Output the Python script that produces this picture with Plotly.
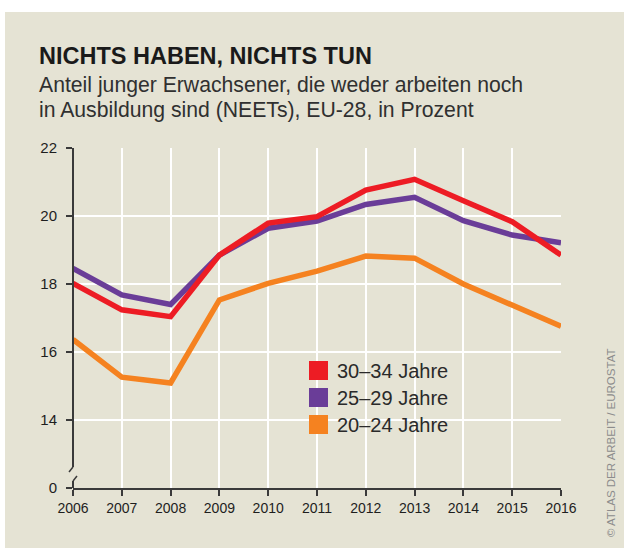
import plotly.graph_objects as go

# NEET rates, EU-28, percent
years = [2006, 2007, 2008, 2009, 2010, 2011, 2012, 2013, 2014, 2015, 2016]
neet_30_34 = [18.02, 17.24, 17.04, 18.85, 19.79, 19.98, 20.76, 21.08, 20.45, 19.83, 18.85]
neet_25_29 = [18.46, 17.68, 17.40, 18.85, 19.64, 19.85, 20.34, 20.55, 19.86, 19.44, 19.21]
neet_20_24 = [16.37, 15.26, 15.09, 17.53, 18.02, 18.38, 18.82, 18.76, 18.00, 17.38, 16.76]

series_names = ["30–34 Jahre", "25–29 Jahre", "20–24 Jahre"]
series_values = [neet_30_34, neet_25_29, neet_20_24]
series_colors = ["#ED1C24", "#6A3D98", "#F58220"]

y_tick_vals = [12, 14, 16, 18, 20, 22]
y_tick_text = ["0", "14", "16", "18", "20", "22"]

W, H = 624, 548
L, R, T, B = 73, 63, 148, 60
PW, PH = W - L - R, H - T - B
BG = "#E5E3D4"
AXIS = "#3A3A3A"
FONT = "Liberation Sans"


def fx(px):
    return (px - L) / PW


def fy(py):
    return (H - B - py) / PH


fig = go.Figure()

# draw lower series first so the 30–34 line sits on top
for name, vals, col in reversed(list(zip(series_names, series_values, series_colors))):
    fig.add_trace(go.Scatter(x=years, y=vals, mode="lines", name=name,
                             line=dict(color=col, width=5.5), showlegend=False,
                             hoverinfo="skip"))

shapes = [
    # white frame strips around the beige panel
    dict(type="rect", xref="paper", yref="paper", x0=fx(-5), x1=fx(W + 5), y0=fy(12), y1=fy(-5),
         fillcolor="white", line_width=0, layer="below"),
    dict(type="rect", xref="paper", yref="paper", x0=fx(-5), x1=fx(5), y0=fy(H + 5), y1=fy(-5),
         fillcolor="white", line_width=0, layer="below"),
    # gap in the y axis
    dict(type="rect", xref="paper", yref="paper", x0=fx(70), x1=fx(76), y0=fy(480), y1=fy(467),
         fillcolor=BG, line_width=0, layer="between"),
    # broken y axis
    dict(type="line", xref="paper", yref="paper", x0=fx(73), x1=fx(73), y0=fy(148), y1=fy(467),
         line=dict(color=AXIS, width=2), layer="above"),
    dict(type="line", xref="paper", yref="paper", x0=fx(73), x1=fx(69), y0=fy(467), y1=fy(472),
         line=dict(color=AXIS, width=1.5), layer="above"),
    dict(type="line", xref="paper", yref="paper", x0=fx(73), x1=fx(77), y0=fy(481), y1=fy(476),
         line=dict(color=AXIS, width=1.5), layer="above"),
    dict(type="line", xref="paper", yref="paper", x0=fx(73), x1=fx(73), y0=fy(481), y1=fy(488),
         line=dict(color=AXIS, width=2), layer="above"),
]

annotations = [
    dict(text="<b>NICHTS HABEN, NICHTS TUN</b>", x=fx(37), y=fy(56), xref="paper", yref="paper",
         xanchor="left", yanchor="middle", showarrow=False,
         font=dict(family=FONT, size=23.5, color="#1A1A1A")),
    dict(text="Anteil junger Erwachsener, die weder arbeiten noch", x=fx(37), y=fy(85),
         xref="paper", yref="paper", xanchor="left", yanchor="middle", showarrow=False,
         font=dict(family=FONT, size=21.2, color="#303030")),
    dict(text="in Ausbildung sind (NEETs), EU-28, in Prozent", x=fx(37), y=fy(110.5),
         xref="paper", yref="paper", xanchor="left", yanchor="middle", showarrow=False,
         font=dict(family=FONT, size=21.2, color="#303030")),
    dict(text="© ATLAS DER ARBEIT / EUROSTAT", x=fx(611), y=fy(443), xref="paper", yref="paper",
         xanchor="center", yanchor="middle", textangle=-90, showarrow=False,
         font=dict(family=FONT, size=11.5, color="#8C8C8C")),
]

# legend drawn as colour squares with labels
for i, (name, col) in enumerate(zip(series_names, series_colors)):
    cy = 370.5 + 27 * i
    shapes.append(dict(type="rect", xref="paper", yref="paper", x0=fx(309), x1=fx(328),
                       y0=fy(cy + 9.5), y1=fy(cy - 9.5), fillcolor=col, line_width=0, layer="above"))
    annotations.append(dict(text=name, x=fx(335), y=fy(cy), xref="paper", yref="paper",
                            xanchor="left", yanchor="middle", showarrow=False,
                            font=dict(family=FONT, size=20, color="#2A2A2A")))

fig.update_layout(
    width=W, height=H,
    margin=dict(l=L, r=R, t=T, b=B, pad=0),
    paper_bgcolor=BG, plot_bgcolor=BG,
    shapes=shapes, annotations=annotations,
    xaxis=dict(range=[2006, 2016], tickvals=years, ticktext=[str(y) for y in years],
               showgrid=True, gridcolor="white", gridwidth=1.5, zeroline=False,
               showline=True, linecolor=AXIS, linewidth=2,
               ticks="outside", ticklen=6, tickwidth=1.5, tickcolor=AXIS,
               tickfont=dict(family=FONT, size=14, color="#1E1E1E"),
               fixedrange=True),
    yaxis=dict(range=[12, 22], tickvals=y_tick_vals, ticktext=y_tick_text,
               showgrid=True, gridcolor="white", gridwidth=1.5, zeroline=False,
               showline=False, ticks="outside", ticklen=6, tickwidth=1.5, tickcolor=AXIS,
               ticklabelstandoff=6,
               tickfont=dict(family=FONT, size=15, color="#1E1E1E"),
               fixedrange=True),
)

fig.write_html("out.html")
